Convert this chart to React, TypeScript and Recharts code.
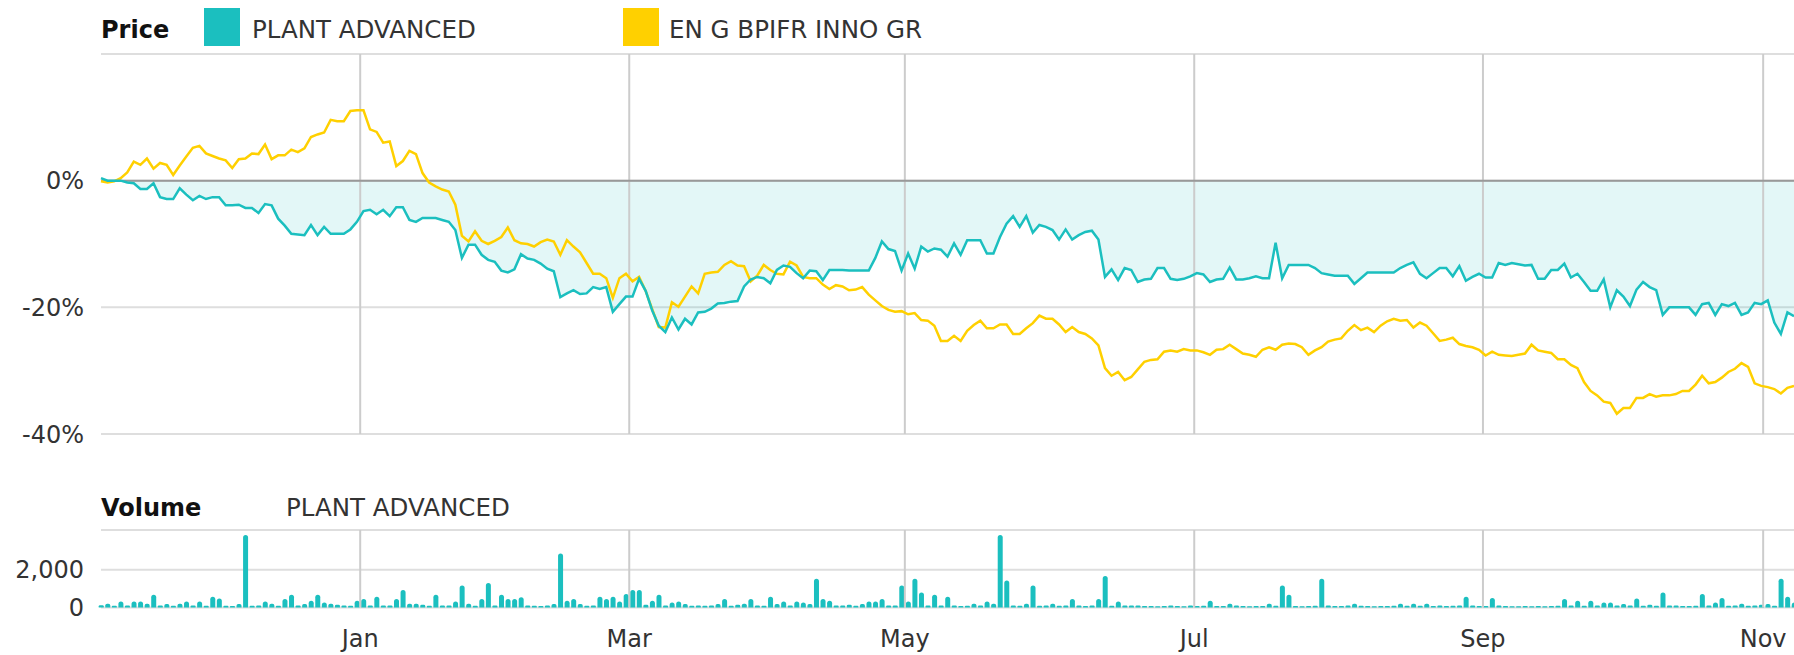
import React from "react";
import {
  ComposedChart,
  Line,
  Area,
  Bar,
  XAxis,
  YAxis,
  CartesianGrid,
  ReferenceLine,
} from "recharts";

// % change since start, one value per trading day
const plantAdvanced: number[] = [
  0.4, 0.0, 0.0, 0.0, -0.3, -0.4, -1.3, -1.3, -0.4, -2.6, -2.9, -2.9, -1.2, -2.2, -3.1, -2.4, -2.9, -2.6, -2.6, -3.9,
  -3.9, -3.8, -4.3, -4.3, -5.1, -3.7, -3.9, -6.0, -7.1, -8.4, -8.5, -8.6, -7.0, -8.6, -7.3, -8.4, -8.4, -8.4, -7.7, -6.5,
  -4.8, -4.6, -5.3,
  -4.6, -5.6, -4.2, -4.2, -6.2, -6.5, -5.9, -5.9, -5.9, -6.2, -6.5, -7.8, -12.2, -10.1, -10.1, -11.7, -12.5, -12.8, -14.2, -14.5,
  -14.0, -11.6, -12.3, -12.5, -13.1, -13.9, -14.3, -18.4, -17.8, -17.3, -17.9, -17.8, -16.8, -17.1, -16.8, -20.7, -19.5, -18.3,
  -18.3, -15.5, -17.4, -20.5, -22.9, -23.9, -21.6,
  -23.5, -21.8, -22.7, -20.8, -20.7, -20.2, -19.4, -19.3, -19.1, -19.0, -16.7, -15.6, -15.2, -15.4, -16.2, -14.1, -13.4, -13.6,
  -14.6, -15.4, -14.2, -14.3, -15.7, -14.1, -14.1, -14.1, -14.2, -14.2, -14.2, -14.2, -12.2, -9.6, -10.8, -11.1, -14.2, -11.5,
  -13.9, -10.4, -11.2, -10.7, -10.9, -12.0, -9.9,
  -11.7, -9.4, -9.4, -9.4, -11.5, -11.5, -8.9, -6.8, -5.6, -7.3, -5.6, -8.2, -7.0, -7.3, -7.8, -9.3, -7.7, -9.3, -8.6, -8.1,
  -7.9, -9.3, -15.2, -14.0, -15.7, -13.8, -14.1, -16.0, -15.6, -15.5, -13.8, -13.8, -15.5, -15.7, -15.5, -15.1, -14.6, -14.8,
  -16.0, -15.6, -15.5, -13.7,
  -15.6, -15.6, -15.4, -15.1, -15.4, -15.4, -9.8, -15.4, -13.3, -13.3, -13.3, -13.3, -13.8, -14.6, -14.8, -15.0, -15.0, -15.0,
  -16.3, -15.4, -14.5, -14.5, -14.5, -14.5, -14.5, -13.8, -13.3, -12.9, -14.7, -15.4, -14.6, -13.8, -13.8, -15.1, -13.5, -15.8,
  -15.2, -14.7, -15.3, -15.3, -13.0, -13.3, -13.0,
  -13.2, -13.4, -13.3, -15.5, -15.5, -14.1, -14.1, -13.1, -15.3, -14.7, -16.0, -17.4, -17.4, -15.6, -20.0, -17.3, -18.3, -19.8,
  -17.2, -16.0, -16.8, -17.3, -21.2, -20.0, -20.0, -20.0, -20.0, -21.2, -19.5, -19.3, -21.2, -19.5, -19.8, -19.3, -21.2, -20.8,
  -19.3, -19.5, -18.9, -22.4, -24.2, -20.8, -21.4,
];

const bpifrInno: number[] = [
  -0.1, -0.3, -0.1, 0.4, 1.3, 3.0, 2.5, 3.5, 1.9, 2.8, 2.5, 0.9, 2.4, 3.8, 5.2, 5.5, 4.3, 3.9, 3.5, 3.2,
  2.0, 3.4, 3.5, 4.3, 4.2, 5.7, 3.4, 4.0, 4.0, 4.9, 4.5, 5.1, 6.9, 7.3, 7.6, 9.6, 9.4, 9.4, 11.0, 11.1,
  11.1, 8.1, 7.7,
  6.0, 6.2, 2.3, 3.1, 4.7, 4.2, 1.2, -0.3, -0.9, -1.4, -1.7, -3.8, -8.7, -9.6, -8.0, -9.5, -10.0, -9.5, -8.9, -7.4,
  -9.4, -9.9, -10.0, -10.4, -9.7, -9.3, -9.6, -11.7, -9.4, -10.4, -11.3, -13.0, -14.7, -14.7, -15.4, -18.5, -15.4, -14.7,
  -15.9, -15.2, -17.4, -20.3, -23.1, -23.2, -19.2,
  -19.9, -18.3, -16.7, -17.8, -14.7, -14.5, -14.4, -13.3, -12.7, -13.4, -13.5, -15.9, -15.0, -13.3, -14.1, -14.7, -14.8, -12.8,
  -13.4, -15.2, -15.4, -15.4, -16.4, -17.1, -16.5, -16.7, -17.3, -17.2, -16.8, -18.0, -18.9, -19.8, -20.4, -20.7, -20.6, -21.1,
  -20.9, -22.0, -22.1, -22.9, -25.3, -25.3, -24.5,
  -25.3, -23.7, -22.8, -22.1, -23.3, -23.3, -22.7, -22.7, -24.2, -24.2, -23.3, -22.5, -21.3, -21.8, -21.8, -22.7, -23.9, -23.1,
  -23.9, -24.2, -24.9, -26.0, -29.6, -30.8, -30.2, -31.5, -31.0, -29.8, -28.6, -28.3, -28.2, -27.0, -26.8, -27.0, -26.6, -26.8,
  -26.8, -27.1, -27.5, -26.7, -26.6, -25.9,
  -26.6, -27.3, -27.5, -27.8, -26.7, -26.3, -26.7, -25.9, -25.7, -25.8, -26.3, -27.5, -26.8, -26.3, -25.4, -25.1, -24.9, -23.7,
  -22.8, -23.6, -23.2, -23.9, -22.9, -22.2, -21.8, -22.1, -22.0, -23.2, -22.4, -22.9, -24.1, -25.3, -25.1, -24.8, -25.8, -26.1,
  -26.3, -26.7, -27.6, -27.0, -27.5, -27.6, -27.7,
  -27.5, -27.3, -25.9, -26.8, -27.0, -27.2, -28.2, -28.2, -29.1, -29.6, -31.8, -33.2, -33.9, -34.9, -35.1, -36.8, -35.9, -35.9,
  -34.3, -34.3, -33.7, -34.1, -33.9, -33.9, -33.7, -33.2, -33.2, -32.2, -30.8, -32.0, -31.8, -31.1, -30.2, -29.7, -28.8, -29.4,
  -32.0, -32.4, -32.6, -32.9, -33.6, -32.7, -32.4,
];

// daily volume, PLANT ADVANCED
const volume: number[] = [
  120, 200, 90, 320, 110, 320, 320, 200, 680, 100, 180, 90, 200, 320, 100, 320, 90, 570, 480, 90,
  80, 180, 3840, 90, 100, 320, 200, 90, 450, 680, 100, 180, 360, 680, 270, 200, 150, 110, 90, 360,
  450, 100, 570, 110, 100, 450, 930, 200, 200, 150, 90, 680, 110, 100, 320, 1160, 200, 90, 450, 1290,
  100, 680, 450, 450, 540, 110, 90, 80, 110, 180, 2860, 360, 450, 180, 90, 100, 570, 450, 570, 320,
  710, 930, 930, 150, 360, 680, 110, 270, 320, 180, 90, 110, 90, 100, 180, 450, 90, 150, 200, 450,
  110, 90, 570, 180, 320, 100, 320, 270, 180, 1520, 450, 360, 100, 110, 150, 90, 180, 320, 320, 450,
  110, 100, 1160, 320, 1520, 800, 100, 680, 100, 570, 110, 80, 90, 200, 100, 320, 200, 3840, 1430, 110,
  90, 200, 1160, 90, 110, 200, 90, 110, 450, 110, 80, 100, 450, 1660, 90, 320, 100, 110, 110, 80,
  80, 70, 80, 110, 80, 70, 110, 80, 90, 360, 80, 80, 200, 110, 80, 70, 80, 80, 200, 90,
  1160, 680, 80, 70, 80, 90, 1520, 110, 80, 80, 110, 200, 90, 80, 70, 80, 80, 90, 200, 90,
  200, 90, 200, 80, 110, 80, 90, 110, 570, 110, 80, 80, 500, 110, 80, 70, 70, 80, 70, 80,
  70, 80, 90, 450, 100, 360, 90, 360, 100, 270, 270, 100, 180, 100, 480, 90, 150, 90, 800, 100,
  110, 80, 80, 90, 710, 100, 270, 500, 90, 100, 200, 90, 100, 150, 180, 90, 1520, 570, 270,
];

// month grid positions on the trading-day axis
const monthTicks = [39.5, 80.5, 122.5, 166.6, 210.6, 253.3];
const monthLabels = ["Jan", "Mar", "May", "Jul", "Sep", "Nov"];
const priceTicks = [-40, -20, 0, 20];
const volumeTicks = [0, 2000, 4100];

const TEAL = "#1bbfbf";
const YELLOW = "#ffd000";
const FONT = "DejaVu Sans";

const priceData = plantAdvanced.map((v, i) => ({ i, plant: v, inno: bpifrInno[i] }));
const volumeData = volume.map((v, i) => ({ i, vol: v }));

const tickStyle = { fontSize: 24, fill: "#333", fontFamily: FONT };
const lastIdx = plantAdvanced.length - 1;

export default function App() {
  return (
    <div
      style={{
        position: "absolute",
        left: 0,
        top: 0,
        width: 1794,
        height: 655,
        background: "#fff",
        fontFamily: FONT,
        color: "#333",
        overflow: "hidden",
      }}
    >
      {/* price header */}
      <div style={{ position: "absolute", left: 101, top: 11, lineHeight: "38px", fontSize: 24, fontWeight: "bold", color: "#111" }}>
        Price
      </div>
      <div style={{ position: "absolute", left: 204, top: 8, width: 36, height: 38, background: TEAL }} />
      <div style={{ position: "absolute", left: 252, top: 11, lineHeight: "38px", fontSize: 24.5 }}>PLANT ADVANCED</div>
      <div style={{ position: "absolute", left: 623, top: 8, width: 36, height: 38, background: YELLOW }} />
      <div style={{ position: "absolute", left: 669, top: 11, lineHeight: "38px", fontSize: 24.5 }}>EN G BPIFR INNO GR</div>

      <div style={{ position: "absolute", left: 0, top: 0 }}>
        <ComposedChart width={1794} height={470} data={priceData} margin={{ top: 54, right: 0, bottom: 36, left: 0 }}>
          <CartesianGrid vertical={false} stroke="#dedede" strokeWidth={2} />
          <XAxis type="number" dataKey="i" domain={[0, lastIdx]} hide />
          <YAxis
            width={101}
            domain={[-40, 20]}
            ticks={priceTicks}
            interval={0}
            tickFormatter={(v: number) => (v === 20 ? "" : `${v}%`)}
            axisLine={false}
            tickLine={false}
            tickSize={0}
            tickMargin={17}
            tick={tickStyle}
          />
          {monthTicks.map((m) => (
            <ReferenceLine key={m} x={m} stroke="#cccccc" strokeWidth={2} />
          ))}
          <ReferenceLine y={0} stroke="#999" strokeWidth={2} />
          <Area
            type="linear"
            dataKey="plant"
            baseValue={0}
            stroke="none"
            fill={TEAL}
            fillOpacity={0.12}
            isAnimationActive={false}
          />
          <Line type="linear" dataKey="inno" stroke={YELLOW} strokeWidth={2.5} dot={false} isAnimationActive={false} />
          <Line type="linear" dataKey="plant" stroke={TEAL} strokeWidth={2.5} dot={false} isAnimationActive={false} />
        </ComposedChart>
      </div>

      {/* volume header */}
      <div style={{ position: "absolute", left: 101, top: 489, lineHeight: "38px", fontSize: 24, fontWeight: "bold", color: "#111" }}>
        Volume
      </div>
      <div style={{ position: "absolute", left: 286, top: 489, lineHeight: "38px", fontSize: 24.5 }}>PLANT ADVANCED</div>

      <div style={{ position: "absolute", left: 0, top: 500 }}>
        <ComposedChart width={1794} height={155} data={volumeData} margin={{ top: 30, right: 0, bottom: 0, left: 0 }}>
          <CartesianGrid vertical={false} stroke="#dedede" strokeWidth={2} />
          <XAxis
            type="number"
            dataKey="i"
            domain={[0, lastIdx]}
            ticks={monthTicks}
            tickFormatter={(v: number) => monthLabels[monthTicks.indexOf(v)] ?? ""}
            height={47.5}
            axisLine={false}
            tickLine={false}
            tickSize={0}
            tickMargin={22}
            tick={tickStyle}
            interval={0}
          />
          <YAxis
            width={101}
            domain={[0, 4100]}
            ticks={volumeTicks}
            interval={0}
            tickFormatter={(v: number) => (v === 4100 ? "" : v.toLocaleString("en-US"))}
            axisLine={false}
            tickLine={false}
            tickSize={0}
            tickMargin={17}
            tick={tickStyle}
          />
          {monthTicks.map((m) => (
            <ReferenceLine key={m} x={m} stroke="#cccccc" strokeWidth={2} />
          ))}
          <Bar dataKey="vol" fill={TEAL} barSize={5} radius={[2.5, 2.5, 0, 0]} isAnimationActive={false} />
        </ComposedChart>
      </div>
    </div>
  );
}
